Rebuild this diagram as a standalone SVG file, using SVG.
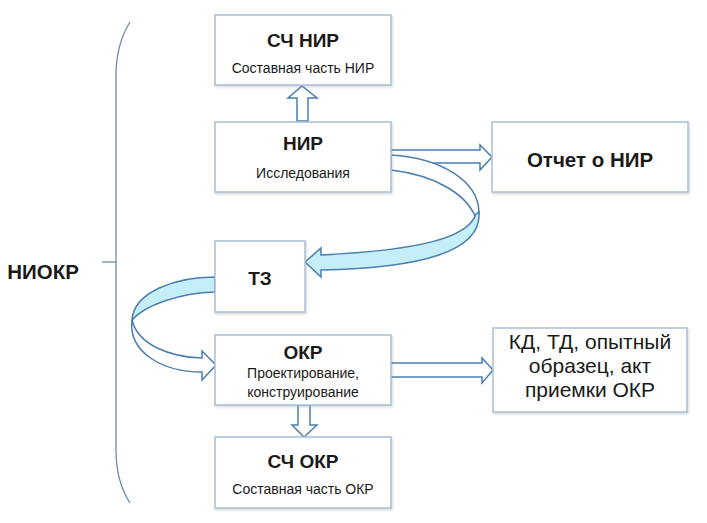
<svg xmlns="http://www.w3.org/2000/svg" width="707" height="523" viewBox="0 0 707 523">
<style>
.box{fill:#fff;stroke:#a9c0d6;stroke-width:1.5;filter:url(#sh)}
.t{font-family:"Liberation Sans",Arial,sans-serif;fill:#1a1a1a;text-anchor:middle}
.b{font-weight:bold;font-size:19px}
.s{font-size:14px}
.l{font-size:21px}
.arw{fill:#fff;stroke:#4a7eb0;stroke-width:1.5;stroke-linejoin:miter}
.arb{fill:#c4eef8;stroke:#4a7eb0;stroke-width:1.5}
.br{fill:none;stroke:#6a8caa;stroke-width:1.3}
</style>
<defs>
<filter id="sh" x="-10%" y="-10%" width="120%" height="130%">
<feDropShadow dx="1" dy="1.5" stdDeviation="1.2" flood-color="#8a8a8a" flood-opacity="0.35"/>
</filter>
</defs>
<rect width="707" height="523" fill="#fff"/>

<g id="bracket">
<path class="br" d="M130,22 C119,40 116,58 116,75 L116,450 C116,468 119,486 130,503"/>
<path class="br" d="M102,262 L116,262"/>
<text class="t" x="43" y="279" style="font-weight:bold;font-size:20.5px">НИОКР</text>
</g>

<g id="connectors">
<path class="arw" d="M297,121 L297,98 L288,98 L302,86 L317,98 L308,98 L308,121 Z"/>
<path class="arw" d="M390,150 L480,150 L480,145 L492,157 L480,170 L480,163 L390,163 Z"/>
<path class="arw" d="M391,155 C440,158 478,180 479,212 L477,222 C470,195 435,175 391,170 Z"/>
<path class="arb" d="M476,214 C468,238 420,250 321,255 L321,248 L305,262 L321,277 L321,270 C420,268 482,252 479,212 Z"/>
<path class="arb" d="M215,277 C175,277 134,292 132,320 C145,305 180,293 215,292 Z"/>
<path class="arw" d="M132,320 C138,345 170,357 202,358 L202,351 L216,365 L202,380 L202,372 C162,372 128,352 132,320 Z"/>
<path class="arw" d="M390,363 L482,363 L482,358 L493,370 L482,383 L482,377 L390,377 Z"/>
<path class="arw" d="M298,405 L298,425 L292,425 L304,437 L317,425 L310,425 L310,405 Z"/>
</g>

<g id="sch-nir">
<rect class="box" x="215" y="15" width="176" height="70"/>
<text class="t b" x="303" y="47">СЧ НИР</text>
<text class="t s" x="303" y="73">Составная часть НИР</text>
</g>
<g id="nir">
<rect class="box" x="215" y="122" width="176" height="70"/>
<text class="t b" x="303" y="150">НИР</text>
<text class="t s" x="303" y="178">Исследования</text>
</g>
<g id="otchet">
<rect class="box" x="492" y="122" width="196" height="70"/>
<text class="t b" x="590" y="167" style="font-size:20.5px">Отчет о НИР</text>
</g>
<g id="tz">
<rect class="box" x="215" y="241" width="90" height="71"/>
<text class="t b" x="260" y="285">ТЗ</text>
</g>
<g id="okr">
<rect class="box" x="215" y="335" width="176" height="70"/>
<text class="t b" x="303" y="359">ОКР</text>
<text class="t s" x="303" y="378">Проектирование,</text>
<text class="t s" x="303" y="397">конструирование</text>
</g>
<g id="kd">
<rect class="box" x="493" y="328" width="194" height="84"/>
<text class="t l" x="590" y="349">КД, ТД, опытный</text>
<text class="t l" x="590" y="373">образец, акт</text>
<text class="t l" x="590" y="397">приемки ОКР</text>
</g>
<g id="sch-okr">
<rect class="box" x="215" y="437" width="176" height="71"/>
<text class="t b" x="303" y="468">СЧ ОКР</text>
<text class="t s" x="303" y="494">Составная часть ОКР</text>
</g>
</svg>
